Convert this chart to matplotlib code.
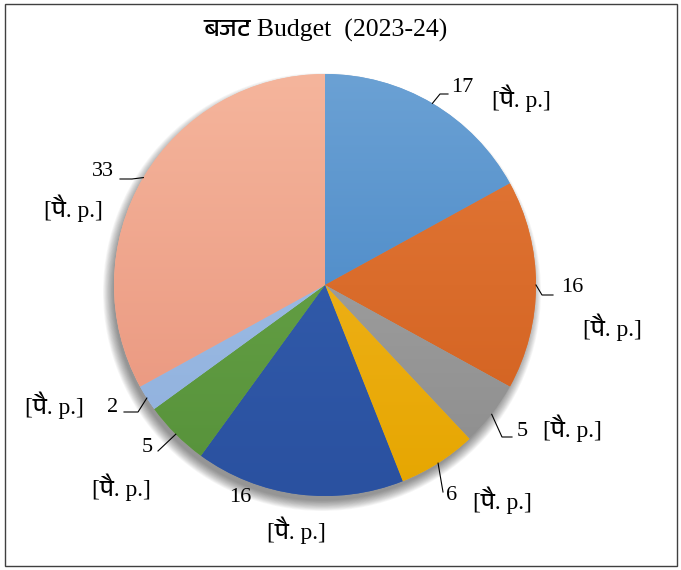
import numpy as np
import matplotlib
matplotlib.use("Agg")
import matplotlib.pyplot as plt
from matplotlib import font_manager
from matplotlib.ft2font import FT2Font
from matplotlib.patches import Rectangle, Circle
from matplotlib.colors import LinearSegmentedColormap

# data
values = [17, 16, 5, 6, 16, 5, 2, 33]
cat_label = "[पै. p.]"
title = "बजट Budget  (2023-24)"

top_colors = ["#6ba1d4", "#e47a3a", "#ababab", "#f4b82a", "#3762b2", "#6eaa4c", "#a6c4ea", "#f5b59c"]
bot_colors = ["#3b7ec2", "#d05e1c", "#8c8c8c", "#e6a600", "#2a51a0", "#56913a", "#8eafdc", "#e8927a"]

# label placement (pixel coords, y from top): number text, category text
num_pos = [(462, 88), (572, 288), (522, 431), (452, 495), (240, 497), (147, 447), (113, 407), (103, 172)]
cat_pos = [(521, 98), (612, 327), (572, 428), (502, 500), (296, 530), (121, 487), (54, 405), (73, 208)]
# leader elbows / ends (pixel), None = no leader
leaders = [[(440, 94), (448, 94)],
           [(542, 295), (553, 295)],
           [(502, 437), (512, 437)],
           [(443, 492)],
           None,
           [(158, 451)],
           [(138, 412), (124, 412)],
           [(132, 179), (120, 179)]]


def find_deva():
    for f in font_manager.fontManager.ttflist:
        if "devanagari" in f.name.lower():
            return f.name
    for f in font_manager.fontManager.ttflist:
        try:
            if 0x092C in FT2Font(f.fname).get_charmap():
                return f.name
        except Exception:
            pass
    return None


deva = find_deva()
fams = ["Liberation Serif"] + ([deva] if deva else []) + ["DejaVu Sans"]
plt.rcParams["font.family"] = fams

W, H = 681, 570
cx, cy, R = 325, H - 285, 211

fig = plt.figure(figsize=(W / 100, H / 100), dpi=100)
ax = fig.add_axes([0, 0, 1, 1])

# soft shadow
for k in range(14):
    ax.add_patch(Circle((cx - 3, cy - 7), R + 8 - k * 0.8, color="black", alpha=0.035, lw=0, zorder=1))

wedges, _ = ax.pie(values, center=(cx, cy), radius=R, startangle=90, counterclock=False,
                   colors=top_colors, wedgeprops=dict(linewidth=0), frame=True)

grad = np.linspace(0, 1, 256).reshape(-1, 1)
for w, c1, c2 in zip(wedges, top_colors, bot_colors):
    w.set_zorder(2)
    cmap = LinearSegmentedColormap.from_list("g", [c2, c1])
    im = ax.imshow(grad, cmap=cmap, origin="lower", aspect="auto",
                   extent=[cx - R, cx + R, cy - R, cy + R], zorder=3)
    im.set_clip_path(w)

ax.set_xlim(0, W)
ax.set_ylim(0, H)
ax.set_aspect("equal")
ax.axis("off")

# labels and leader lines
cum = np.cumsum([0] + values)
total = sum(values)
for i, v in enumerate(values):
    mid = (cum[i] + v / 2) / total * 2 * np.pi
    sx, sy = cx + R * np.sin(mid), cy + R * np.cos(mid)
    if leaders[i]:
        pts = [(sx, sy)] + [(px, H - py) for px, py in leaders[i]]
        xs, ys = zip(*pts)
        ax.plot(xs, ys, color="black", lw=0.8, zorder=4)
    nx, ny = num_pos[i]
    ax.text(nx, H - ny, str(v), ha="center", va="center", fontsize=16, zorder=5)
    tx, ty = cat_pos[i]
    ax.text(tx, H - ty, cat_label, ha="center", va="center", fontsize=17, zorder=5)

ax.text(326, H - 30, title, ha="center", va="center", fontsize=18.5)

fig.patches.append(Rectangle((5 / W, 4 / H), 672 / W, 562 / H, transform=fig.transFigure,
                             fill=False, edgecolor="#404040", lw=1))

fig.savefig("out.png", dpi=100)
